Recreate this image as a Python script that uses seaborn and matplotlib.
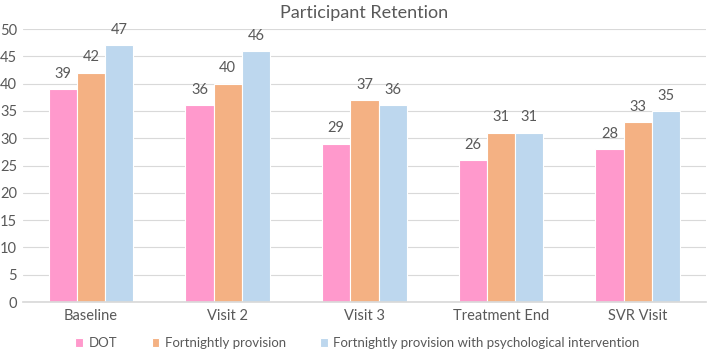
import matplotlib
matplotlib.use("Agg")
import matplotlib.pyplot as plt
import seaborn as sns
import pandas as pd

categories = ["Baseline", "Visit 2", "Visit 3", "Treatment End", "SVR Visit"]
series = ["DOT", "Fortnightly provision", "Fortnightly provision with psychological intervention"]
dot = [39, 36, 29, 26, 28]
fortnightly = [42, 40, 37, 31, 33]
fortnightly_psych = [47, 46, 36, 31, 35]
colors = ["#FF99CC", "#F4B183", "#BDD7EE"]

rows = []
for s, vals in zip(series, [dot, fortnightly, fortnightly_psych]):
    for c, v in zip(categories, vals):
        rows.append({"Visit": c, "Group": s, "Count": v})
df = pd.DataFrame(rows)

sns.set_theme(style="white")
plt.rcParams["font.family"] = ["Lato", "DejaVu Sans"]
text_color = "#595959"

fig = plt.figure(figsize=(7.09, 3.5), dpi=100)
ax = fig.add_axes([0.032, 0.137, 0.964, 0.78])
sns.barplot(data=df, x="Visit", y="Count", hue="Group", palette=colors,
            order=categories, hue_order=series, width=0.62,
            edgecolor="white", linewidth=0.8, saturation=1, ax=ax)

for cont in ax.containers:
    ax.bar_label(cont, padding=6, fontsize=10.5, color=text_color)

ax.set_ylim(0, 50)
ax.set_yticks(range(0, 51, 5))
ax.set_xlim(-0.5, 4.5)
ax.yaxis.grid(True, color="#D9D9D9", linewidth=0.8)
ax.set_axisbelow(True)
for sp in ["top", "right", "left"]:
    ax.spines[sp].set_visible(False)
ax.spines["bottom"].set_color("#D9D9D9")
ax.tick_params(axis="both", length=0, labelsize=10.5, colors=text_color)
ax.tick_params(axis="y", pad=4)
ax.tick_params(axis="x", pad=5)
ax.set_xlabel("")
ax.set_ylabel("")
ax.set_title("Participant Retention", fontsize=13, color=text_color, pad=8)

handles, labels = ax.get_legend_handles_labels()
ax.legend(handles, labels, loc="center", bbox_to_anchor=(0.49, -0.15),
          ncol=3, frameon=False, fontsize=9.5, handlelength=0.6, handleheight=0.6,
          handletextpad=0.4, columnspacing=2.6, labelcolor=text_color)

fig.savefig("out.png", dpi=100)
